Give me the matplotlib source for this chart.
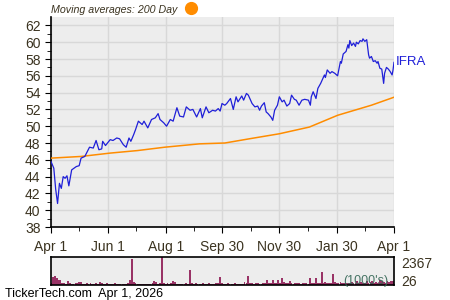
import numpy as np
import matplotlib
matplotlib.use("Agg")
import matplotlib.pyplot as plt
from matplotlib.lines import Line2D

plt.rcParams["font.family"] = ["Liberation Sans", "DejaVu Sans"]

# IFRA daily close, days since Apr 1 2025
price_days = [0, 3, 5, 7, 9, 11, 13, 15, 17, 19, 22, 27, 30, 32, 36, 41, 45, 48, 51, 54,
              55, 58, 63, 66, 70, 73, 77, 80, 83, 85, 88, 90, 93, 97, 99, 103, 107, 111, 114, 116,
              120, 123, 127, 130, 134, 137, 141, 144, 148, 151, 155, 159, 161, 165, 168, 172, 175, 178, 180, 182,
              185, 187, 191, 194, 197, 199, 203, 205, 208, 210, 214, 217, 220, 222, 224, 227, 229, 231, 234, 236,
              238, 241, 243, 246, 248, 251, 254, 256, 259, 261, 264, 267, 270, 274, 276, 277, 279, 282, 284, 287,
              289, 291, 292, 294, 297, 299, 302, 305, 308, 309, 311, 314, 316, 317, 318, 320, 322, 324, 325, 327,
              329, 331, 332, 334, 336, 338, 339, 341, 343, 345, 347, 348, 350, 352, 354, 355, 357, 359, 361, 363,
              364, 365]
price = [45.8, 45.0, 42.5, 40.8, 43.2, 42.6, 44.0, 43.8, 44.1, 42.9, 44.8, 45.2, 45.3, 46.2, 46.4, 47.5, 47.4, 48.3, 47.2, 47.3,
         48.2, 47.7, 48.4, 48.3, 48.6, 48.5, 47.8, 47.5, 48.6, 48.2, 49.0, 49.6, 50.6, 50.2, 50.6, 49.8, 50.8, 51.0, 51.5, 50.8,
         50.4, 50.0, 50.8, 50.6, 52.2, 51.2, 51.1, 52.3, 51.9, 52.0, 51.1, 52.1, 51.0, 52.3, 51.6, 51.9, 51.8, 52.1, 51.8, 52.7,
         52.5, 52.7, 53.3, 52.0, 53.5, 52.9, 53.6, 53.1, 53.9, 53.7, 52.7, 52.3, 52.4, 51.9, 52.4, 52.8, 51.7, 51.5, 51.1, 50.7,
         51.9, 52.5, 53.5, 52.9, 53.1, 52.4, 52.7, 53.7, 53.2, 53.1, 52.5, 53.1, 53.2, 53.1, 52.5, 53.5, 54.1, 53.3, 54.5, 55.1,
         55.6, 56.1, 55.8, 56.7, 56.3, 56.5, 56.3, 56.0, 57.7, 57.5, 58.6, 58.9, 59.7, 59.3, 60.2, 59.6, 59.9, 59.5, 60.0, 59.8,
         60.2, 60.1, 60.4, 60.1, 60.3, 58.5, 58.1, 58.3, 57.7, 57.8, 57.5, 57.7, 56.9, 56.8, 55.1, 56.3, 57.0, 56.8, 56.5, 56.1,
         56.7, 57.6]

# 200 day moving average
ma_days = [0, 32, 63, 92, 121, 158, 185, 211, 243, 275, 305, 341, 365]
ma200 = [46.2, 46.4, 46.8, 47.1, 47.5, 47.9, 48.0, 48.5, 49.1, 49.9, 51.3, 52.5, 53.45]

# volume (1000's), every second day
vol_days = list(range(0, 365, 2))
volume = [150, 680, 720, 600, 450, 420, 200, 150, 120, 310,
          150, 120, 100, 130, 160, 280, 220, 110, 90, 130,
          100, 170, 90, 120, 150, 100, 280, 130, 90, 120,
          160, 100, 110, 90, 130, 80, 90, 60, 80, 90,
          110, 150, 420, 2200, 250, 150, 110, 100, 90, 90,
          90, 100, 90, 110, 150, 340, 250, 120, 150, 2367,
          150, 100, 140, 110, 200, 340, 210, 100, 90, 120,
          100, 110, 130, 90, 1260, 150, 110, 140, 100, 90,
          120, 150, 120, 110, 150, 120, 110, 120, 140, 150,
          690, 150, 120, 100, 150, 110, 120, 110, 200, 120,
          110, 90, 120, 250, 200, 760, 180, 150, 120, 200,
          150, 110, 90, 130, 150, 420, 160, 200, 420, 150,
          180, 420, 200, 590, 250, 200, 150, 300, 150, 120,
          180, 150, 200, 120, 150, 200, 160, 120, 570, 200,
          150, 590, 200, 150, 1040, 200, 250, 180, 200, 150,
          930, 250, 200, 180, 220, 150, 200, 180, 150, 200,
          250, 180, 150, 300, 200, 250, 180, 200, 350, 200,
          250, 300, 200, 250, 180, 400, 300, 250, 200, 300,
          250, 350, 300]

tick_days = [0, 61, 122, 182, 243, 304, 365]
tick_labels = ["Apr 1", "Jun 1", "Aug 1", "Sep 30", "Nov 30", "Jan 30", "Apr 1"]
minor_days = [30, 91, 152, 213, 273, 334]

txt = "#3b3320"
bg = "#ededed"
grid = "#d8d8d8"

fig = plt.figure(figsize=(4.5, 3), dpi=100)

ax = fig.add_axes([0.1133, 0.2433, 0.7622, 0.70])
ax.set_facecolor(bg)
ax.plot(ma_days, ma200, color="#ff8c00", lw=1.1, zorder=3)
ax.plot(price_days, price, color="#1f1fd8", lw=0.9, zorder=4)
ax.set_xlim(0, 365)
ax.set_ylim(38, 63)
ax.set_yticks(np.arange(38, 63, 2))
ax.set_yticks(np.arange(39, 63, 2), minor=True)
ax.set_xticks(tick_days)
ax.set_xticklabels(tick_labels)
ax.set_xticks(minor_days, minor=True)
ax.grid(True, which="major", color=grid, lw=1)
ax.set_axisbelow(True)
for s in ["top", "right"]:
    ax.spines[s].set_visible(False)
ax.spines["left"].set_linewidth(1.2)
ax.spines["bottom"].set_linewidth(1.2)
ax.tick_params(axis="both", which="both", colors="black", labelcolor=txt, labelsize=10)
ax.tick_params(axis="both", which="major", length=4)
ax.tick_params(axis="both", which="minor", length=3)
ax.tick_params(axis="x", pad=5)
ax.text(1.006, price[-1], "IFRA", transform=ax.get_yaxis_transform(),
        color="#1f1fd8", fontsize=9.5, va="center", ha="left")

fig.text(0.113, 0.968, "Moving averages: 200 Day", fontsize=7.7, style="italic",
         color=txt, va="center", ha="left")
fig.add_artist(Line2D([0.424], [0.972], marker="o", markersize=8.5, color="#ff8c00",
                      linestyle="none", transform=fig.transFigure))

vx = fig.add_axes([0.1133, 0.05, 0.7622, 0.095])
vx.set_facecolor(bg)
vx.bar(vol_days, volume, width=1.9, color="#993366", align="center", linewidth=0)
vx.set_xlim(0, 365)
vx.set_ylim(0, 2367)
vx.set_xticks([])
vx.set_yticks([])
for s in vx.spines.values():
    s.set_linewidth(1.2)
vx.text(1.02, 0.75, "2367", transform=vx.transAxes, fontsize=10, color=txt, va="center")
vx.text(1.02, 0.12, "26", transform=vx.transAxes, fontsize=10, color=txt, va="center")
vx.text(0.985, 0.13, "(1000's)", transform=vx.transAxes, fontsize=9, color="#336655",
        va="center", ha="right", alpha=0.9)

fig.text(0.011, 0.02, "TickerTech.com  Apr 1, 2026", fontsize=9, color="black",
         va="center", ha="left")

fig.savefig("out.png", dpi=100)
